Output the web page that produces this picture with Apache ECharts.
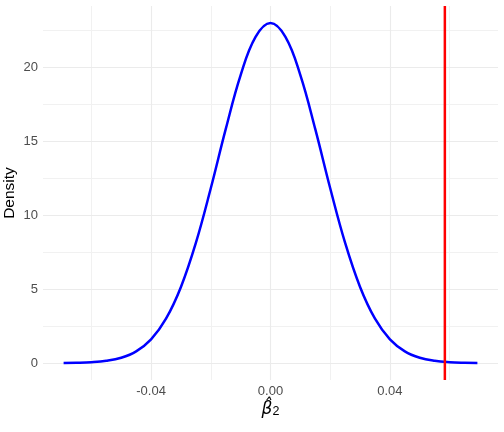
<!DOCTYPE html>
<html>
<head>
<meta charset="utf-8">
<script src="https://cdn.jsdelivr.net/npm/echarts@6/dist/echarts.min.js"></script>
<style>html,body{margin:0;padding:0;background:#fff}#c{width:504px;height:432px}</style>
</head>
<body>
<div id="c"></div>
<script>
// Density curve (x = beta2 hat, y = density)
var curveX = [-0.0693, -0.065, -0.060, -0.055, -0.050, -0.045, -0.040, -0.035, -0.030, -0.025, -0.020, -0.015, -0.010, -0.005, 0.000,
              0.005, 0.010, 0.015, 0.020, 0.025, 0.030, 0.035, 0.040, 0.045, 0.050, 0.055, 0.060, 0.065, 0.0693];
var curveY = [0.008, 0.020, 0.057, 0.150, 0.358, 0.79, 1.60, 3.00, 5.15, 8.13, 11.83, 15.83, 19.49, 22.08, 23.02,
              22.08, 19.49, 15.83, 11.83, 8.13, 5.15, 3.00, 1.60, 0.79, 0.358, 0.150, 0.057, 0.020, 0.008];
var observedValue = 0.0584;
var xTicks = [-0.04, 0.00, 0.04];
var xMinor = [-0.06, -0.02, 0.02, 0.06];
var yTicks = [0, 5, 10, 15, 20];
var yMinor = [2.5, 7.5, 12.5, 17.5, 22.5];
var xRange = [-0.0762, 0.0762];
var yRange = [-1.15, 24.17];

var chart = echarts.init(document.getElementById('c'), null, {renderer: 'canvas'});
var pts = curveX.map(function (x, i) { return [x, curveY[i]]; });

function gridLines(vals, key, color, width) {
  return vals.map(function (v) {
    var o = {lineStyle: {color: color, width: width, type: 'solid'}};
    o[key] = v;
    return o;
  });
}

var option = {
  animation: false,
  backgroundColor: '#ffffff',
  grid: {left: 43, right: 6, top: 6, bottom: 52, containLabel: false, outerBoundsMode: 'none'},
  xAxis: {
    type: 'value', min: xRange[0], max: xRange[1],
    axisLine: {show: false}, axisTick: {show: false}, splitLine: {show: false},
    axisLabel: {
      customValues: xTicks, color: '#4D4D4D', fontSize: 13, margin: 5,
      fontFamily: 'Liberation Sans, Arial, sans-serif',
      formatter: function (v) { return v.toFixed(2); }
    },
    name: '{b|β̂}{s|2}', nameLocation: 'middle', nameGap: 17, nameMoveOverlap: false,
    nameTextStyle: {
      color: '#000', fontFamily: 'Liberation Sans, Arial, sans-serif',
      rich: {
        b: {fontSize: 17, fontStyle: 'italic', color: '#000', fontFamily: 'DejaVu Sans, Liberation Sans, sans-serif', verticalAlign: 'bottom', lineHeight: 21},
        s: {fontSize: 12.5, color: '#000', fontFamily: 'Liberation Sans, Arial, sans-serif', verticalAlign: 'bottom', lineHeight: 12}
      }
    }
  },
  yAxis: {
    type: 'value', min: yRange[0], max: yRange[1],
    axisLine: {show: false}, axisTick: {show: false}, splitLine: {show: false},
    axisLabel: {
      customValues: yTicks, color: '#4D4D4D', fontSize: 13, margin: 5,
      fontFamily: 'Liberation Sans, Arial, sans-serif'
    },
    name: 'Density', nameLocation: 'middle', nameGap: 25, nameRotate: 90, nameMoveOverlap: false,
    nameTextStyle: {color: '#000', fontSize: 15.5, fontFamily: 'Liberation Sans, Arial, sans-serif'}
  },
  series: [
    {
      type: 'line', data: [], z: 1, silent: true, symbol: 'none',
      markLine: {
        z: 1, silent: true, symbol: ['none', 'none'], label: {show: false}, animation: false,
        data: [].concat(
          gridLines(xMinor, 'xAxis', '#F1F1F1', 1),
          gridLines(yMinor, 'yAxis', '#F1F1F1', 1),
          gridLines(xTicks, 'xAxis', '#EBEBEB', 1.1),
          gridLines(yTicks, 'yAxis', '#EBEBEB', 1.1)
        )
      }
    },
    {
      type: 'line', data: pts, smooth: 0.4, symbol: 'none', showSymbol: false, z: 3, silent: true,
      lineStyle: {color: '#0000FF', width: 2.5}, itemStyle: {color: '#0000FF'},
      emphasis: {disabled: true}
    },
    {
      type: 'line', data: [[observedValue, yRange[0]], [observedValue, yRange[1]]],
      z: 4, silent: true, symbol: 'none', showSymbol: false,
      lineStyle: {color: '#FF0000', width: 2.5}, itemStyle: {color: '#FF0000'},
      emphasis: {disabled: true}
    }
  ]
};
chart.setOption(option);
</script>
</body>
</html>
